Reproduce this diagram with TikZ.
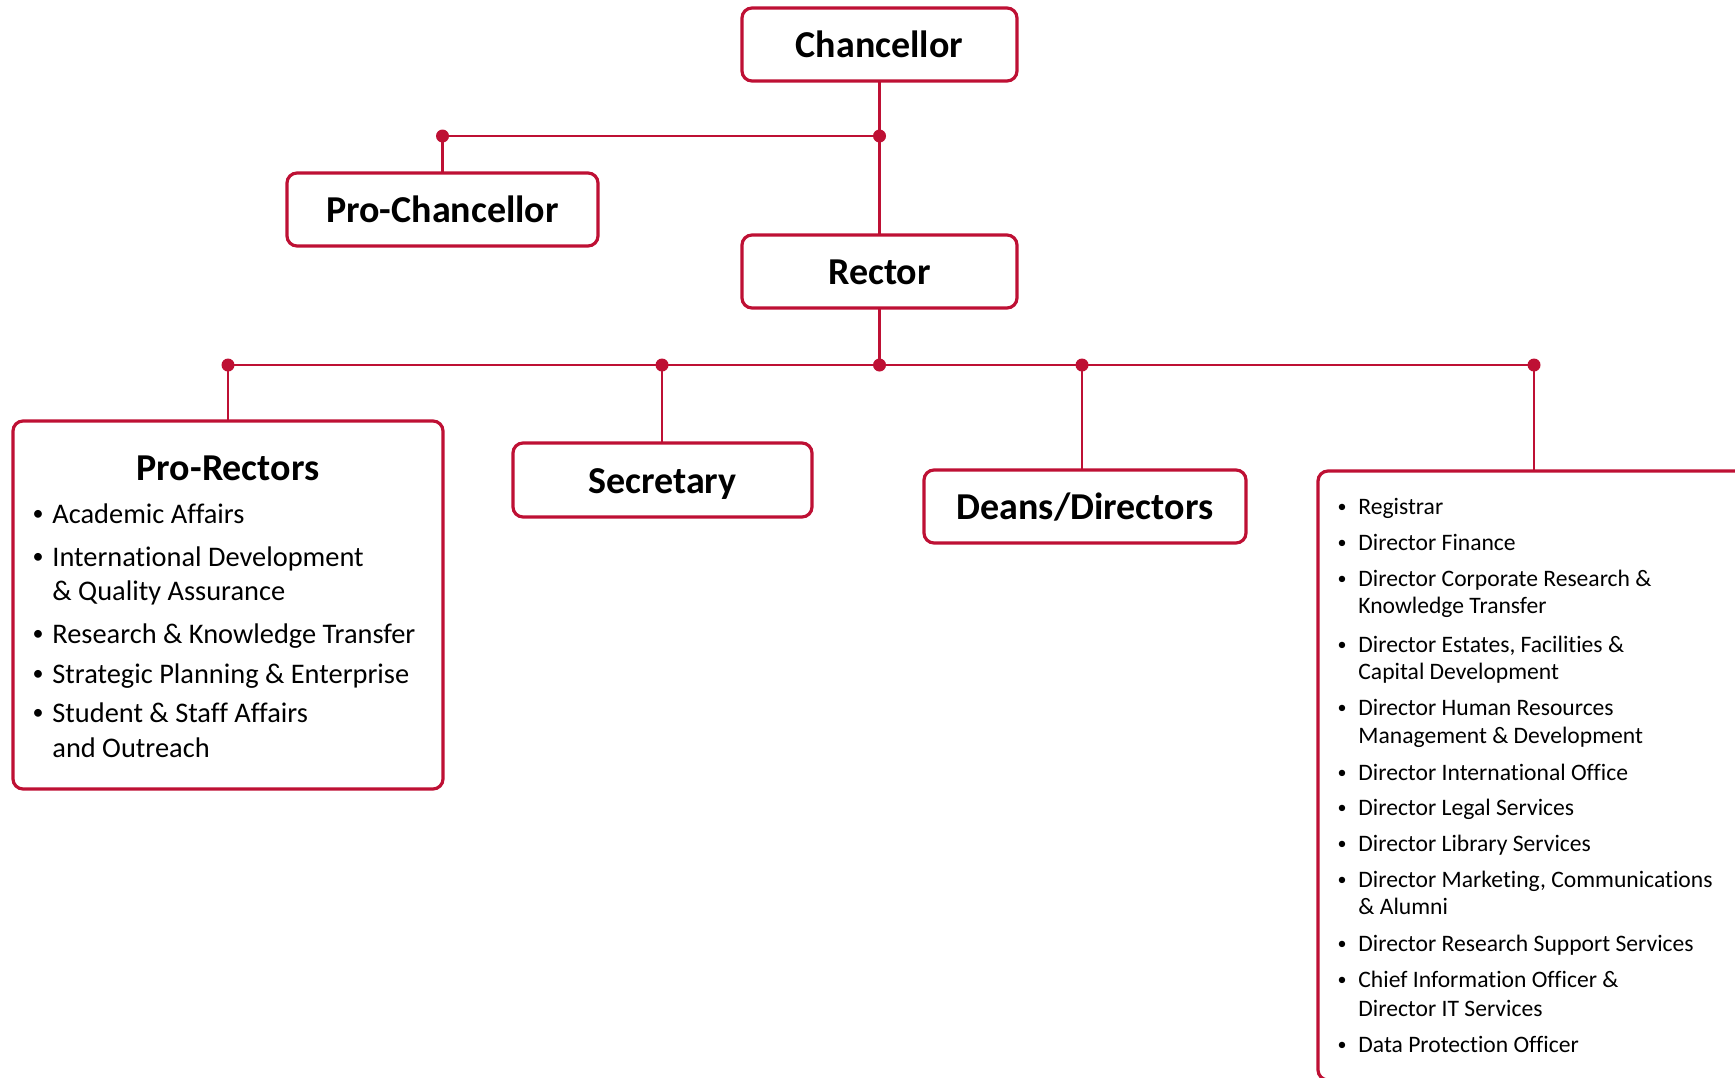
\documentclass[tikz,border=0pt]{standalone}
\usepackage{fontspec}
\setmainfont[Ligatures=NoCommon]{Carlito}
\definecolor{orgred}{RGB}{190,16,52}
\begin{document}
\begin{tikzpicture}[x=0.5pt,y=-0.5pt,
  unit/.style={draw=orgred, line width=1.6pt, rounded corners=5pt, fill=white,
    inner sep=0pt, outer sep=0pt},
  headfont/.style={font=\bfseries\fontsize{19}{22}\selectfont},
  title/.style={unit, headfont, text height=13.4pt, text depth=0pt},
  link/.style={draw=orgred, line width=1.2pt},
  prline/.style={anchor=base west, inner sep=0pt, font=\fontsize{14.2}{17}\selectfont},
  prbullet/.style={anchor=base, inner sep=0pt, font=\fontsize{11}{13}\selectfont},
  stline/.style={anchor=base west, inner sep=0pt, font=\fontsize{11.8}{14}\selectfont},
  stbullet/.style={anchor=base, inner sep=0pt, font=\fontsize{9}{11}\selectfont}
]
\useasboundingbox (0,0) rectangle (1735,1077);
\clip (0,0) rectangle (1735,1077);

% boxes
\node[title, minimum width=137.5pt, minimum height=36.5pt] (chan) at (879.5,44.5) {Chancellor};
\node[title, minimum width=155.5pt, minimum height=36.5pt] (prochan) at (442.5,209.5) {Pro-Chancellor};
\node[title, minimum width=137.5pt, minimum height=36.5pt] (rector) at (879.5,271.5) {Rector};
\node[title, minimum width=149.5pt, minimum height=37pt] (secr) at (662.5,480) {Secretary};
\node[title, minimum width=161pt, minimum height=36.5pt] (deans) at (1085,506.5) {Deans/Directors};
\node[unit, minimum width=215pt, minimum height=184pt] (prorect) at (228,605) {};
\node[unit, anchor=north west, minimum width=250pt, minimum height=304.5pt] (staff) at (1318,471) {};

% junctions
\coordinate (j0) at (879.5,136);
\coordinate (j1) at (442.5,136);
\coordinate (b1) at (228,365);
\coordinate (b2) at (662,365);
\coordinate (b3) at (879.5,365);
\coordinate (b4) at (1082,365);
\coordinate (b5) at (1534,365);

% connectors
\draw[link] (chan.south) -- (j0) -- (rector.north);
\draw[link] (j0) -- (j1) -- (prochan.north);
\draw[link] (rector.south) -- (b3);
\draw[link] (b1) -- (b5);
\draw[link] (b1) -- (prorect.north);
\draw[link] (b2) -- (b2 |- secr.north);
\draw[link] (b4) -- (b4 |- deans.north);
\draw[link] (b5) -- (b5 |- staff.north);
\foreach \c in {j0,j1,b1,b2,b3,b4,b5}
  \fill[orgred] (\c) circle (3.25pt);

% Pro-Rectors
\node[anchor=base, inner sep=0pt, headfont] (prtitle) at (228,480) {Pro-Rectors};
\foreach \t/\yy [count=\i] in {
  {Academic Affairs}/523,
  {International Development}/566,
  {\& Quality Assurance}/600,
  {Research \& Knowledge Transfer}/643,
  {Strategic Planning \& Enterprise}/683,
  {Student \& Staff Affairs}/722,
  {and Outreach}/757}
  \node[prline] (pr\i) at (52,\yy) {\t};
\foreach \yy [count=\i] in {520,563,640,680,719}
  \node[prbullet] (prb\i) at (38,\yy) {•};

% central services
\foreach \t/\yy [count=\i] in {
  {Registrar}/514,
  {Director Finance}/550,
  {Director Corporate Research \&}/586,
  {Knowledge Transfer}/613,
  {Director Estates, Facilities \&}/652,
  {Capital Development}/679,
  {Director Human Resources}/715,
  {Management \& Development}/743,
  {Director International Office}/780,
  {Director Legal Services}/815,
  {Director Library Services}/851,
  {Director Marketing, Communications}/887,
  {\& Alumni}/914,
  {Director Research Support Services}/951,
  {Chief Information Officer \&}/987,
  {Director IT Services}/1016,
  {Data Protection Officer}/1052}
  \node[stline] (st\i) at (1358,\yy) {\t};
\foreach \yy [count=\i] in {512,548,584,650,713,778,813,849,885,949,985,1050}
  \node[stbullet] (stb\i) at (1342,\yy) {•};
\end{tikzpicture}
\end{document}
